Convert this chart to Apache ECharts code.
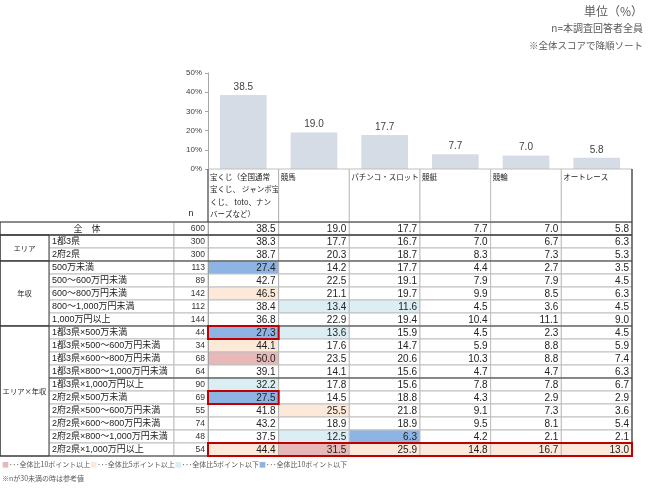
<!DOCTYPE html>
<html>
<head>
<meta charset="utf-8">
<script src="https://cdn.jsdelivr.net/npm/echarts@6/dist/echarts.min.js"></script>
<style>
html, body { margin: 0; padding: 0; background: #fff; }
#chart { width: 650px; height: 491px; }
</style>
</head>
<body>
<div id="chart"></div>
<script>
// 種目（全体スコアで降順）
const categories = ['宝くじ', '競馬', 'パチンコ・スロット', '競艇', '競輪', 'オートレース'];
const headerLabels = [
  '宝くじ（全国通常\n宝くじ、 ジャンボ宝\nくじ、 toto、ナン\nバーズなど）',
  '競馬', 'パチンコ・スロット', '競艇', '競輪', 'オートレース'
];
const yTicks = [0, 10, 20, 30, 40, 50];

const rowLabels = [
  '全　体', '1都3県', '2府2県',
  '500万未満', '500～600万円未満', '600～800万円未満', '800～1,000万円未満', '1,000万円以上',
  '1都3県×500万未満', '1都3県×500～600万円未満', '1都3県×600～800万円未満', '1都3県×800～1,000万円未満',
  '1都3県×1,000万円以上', '2府2県×500万未満', '2府2県×500～600万円未満', '2府2県×600～800万円未満',
  '2府2県×800～1,000万円未満', '2府2県×1,000万円以上'
];
const nValues = [600, 300, 300, 113, 89, 142, 112, 144, 44, 34, 68, 64, 90, 69, 55, 74, 48, 54];
const groups = [
  { name: 'エリア', from: 1, to: 2 },
  { name: '年収', from: 3, to: 7 },
  { name: 'エリア×年収', from: 8, to: 17 }
];

const lottery  = [38.5, 38.3, 38.7, 27.4, 42.7, 46.5, 38.4, 36.8, 27.3, 44.1, 50.0, 39.1, 32.2, 27.5, 41.8, 43.2, 37.5, 44.4];
const horse    = [19.0, 17.7, 20.3, 14.2, 22.5, 21.1, 13.4, 22.9, 13.6, 17.6, 23.5, 14.1, 17.8, 14.5, 25.5, 18.9, 12.5, 31.5];
const pachinko = [17.7, 16.7, 18.7, 17.7, 19.1, 19.7, 11.6, 19.4, 15.9, 14.7, 20.6, 15.6, 15.6, 18.8, 21.8, 18.9, 6.3, 25.9];
const boat     = [7.7, 7.0, 8.3, 4.4, 7.9, 9.9, 4.5, 10.4, 4.5, 5.9, 10.3, 4.7, 7.8, 4.3, 9.1, 9.5, 4.2, 14.8];
const keirin   = [7.0, 6.7, 7.3, 2.7, 7.9, 8.5, 3.6, 11.1, 2.3, 8.8, 8.8, 4.7, 7.8, 2.9, 7.3, 8.1, 2.1, 16.7];
const autorace = [5.8, 6.3, 5.3, 3.5, 4.5, 6.3, 4.5, 9.0, 4.5, 5.9, 7.4, 6.3, 6.7, 2.9, 3.6, 5.4, 2.1, 13.0];
const columns = [lottery, horse, pachinko, boat, keirin, autorace];
const totals = columns.map((c) => c[0]);

// 赤枠で強調するセル: [行, 開始列, 終了列]
const highlights = [[8, 0, 0], [13, 0, 0], [17, 0, 5]];

const JP = '"Noto Sans CJK JP", sans-serif';
const NUM = '"Liberation Sans", "Noto Sans CJK JP", sans-serif';
const LIGHT = '#bfbfbf';
const DARK = '#3a3a3a';
const C_PLUS10 = '#e6b8b7';
const C_PLUS5 = '#fde9d9';
const C_MINUS5 = '#daeef3';
const C_MINUS10 = '#8db4e2';
const HEADER_H = 53;
const COL_GROUP = 49, COL_LABEL = 125, COL_N = 34;

function cellColor(v, base) {
  const d = Math.round((v - base) * 10) / 10;
  if (d >= 10) return C_PLUS10;
  if (d >= 5) return C_PLUS5;
  if (d <= -10) return C_MINUS10;
  if (d <= -5) return C_MINUS5;
  return '#fff';
}

function line(x1, y1, x2, y2, color, w) {
  return { type: 'line', shape: { x1, y1, x2, y2 }, style: { stroke: color, lineWidth: w || 1 } };
}

const cellData = [];
columns.forEach((col, c) => col.forEach((v, r) => cellData.push([c, r, v])));

const chart = echarts.init(document.getElementById('chart'));
chart.setOption({
  animation: false,
  textStyle: { fontFamily: JP },
  grid: [
    { left: 208, right: 18, top: 73, height: 96 },
    { left: 208, right: 18, top: 222, height: 234 }
  ],
  xAxis: [
    { type: 'category', gridIndex: 0, data: categories, axisTick: { show: false }, axisLabel: { show: false },
      axisLine: { lineStyle: { color: '#a6a6a6' } } },
    { type: 'category', gridIndex: 1, data: categories, show: false }
  ],
  yAxis: [
    { type: 'value', gridIndex: 0, min: yTicks[0], max: yTicks[yTicks.length - 1], interval: yTicks[1] - yTicks[0],
      splitLine: { show: false },
      axisLine: { show: true, lineStyle: { color: '#a6a6a6' } },
      axisTick: { show: true, length: 3, lineStyle: { color: '#a6a6a6' } },
      axisLabel: { formatter: '{value}%', fontSize: 8, color: '#404040', fontFamily: NUM, margin: 6 } },
    { type: 'category', gridIndex: 1, data: rowLabels, inverse: true, show: false }
  ],
  graphic: [
    { type: 'text', right: 7, top: 5, style: { text: '単位（%）', font: '12px ' + JP, fill: '#595959' } },
    { type: 'text', right: 7, top: 23, style: { text: 'n=本調査回答者全員', font: '10px ' + JP, fill: '#595959' } },
    { type: 'text', right: 7, top: 41, style: { text: '※全体スコアで降順ソート', font: '9.5px ' + JP, fill: '#595959' } },
    { type: 'text', left: 2, top: 461, style: {
      text: '{p|■}{t|･･･全体比10ポイント以上}{o|■}{t|･･･全体比5ポイント以上}{l|■}{t|･･･全体比5ポイント以下}{b|■}{t|･･･全体比10ポイント以下}',
      font: '7px ' + JP, fill: '#595959',
      rich: {
        p: { fill: C_PLUS10, font: '7px ' + JP },
        o: { fill: C_PLUS5, font: '7px ' + JP },
        l: { fill: C_MINUS5, font: '7px ' + JP },
        b: { fill: C_MINUS10, font: '7px ' + JP },
        t: { fill: '#595959', font: '7px ' + JP }
      } } },
    { type: 'text', left: 2, top: 475, style: { text: '※nが30未満の時は参考値', font: '7px ' + JP, fill: '#595959' } }
  ],
  series: [
    {
      type: 'bar', xAxisIndex: 0, yAxisIndex: 0, data: totals, barCategoryGap: '34%',
      itemStyle: { color: '#d6dce5' },
      label: { show: true, position: 'top', fontSize: 10, color: '#404040', fontFamily: NUM, distance: 3,
        formatter: (p) => p.value.toFixed(1) }
    },
    {
      // 見出し行（種目名）
      type: 'custom', xAxisIndex: 0, yAxisIndex: 0, data: categories.map((_, i) => [i, 0]), z: 3,
      renderItem: (params, api) => {
        const i = api.value(0);
        const p = api.coord([i, 0]);
        const w = api.size([1, 0])[0];
        const x = p[0] - w / 2, y = p[1];
        const ch = [
          { type: 'rect', shape: { x, y, width: w, height: HEADER_H }, style: { fill: '#fff', stroke: LIGHT } },
          { type: 'text', x: x + 2, y: y + 2, style: { text: headerLabels[i], font: '7.5px ' + JP, lineHeight: 12.3,
            fill: '#222', verticalAlign: 'top' } }
        ];
        if (i === 0) {
          ch.push(line(x, y, x, y + HEADER_H, DARK), line(x + w, y, x + w, y + HEADER_H, DARK));
          ch.push({ type: 'text', x: x - COL_N / 2, y: y + HEADER_H - 4, style: { text: 'n', font: '9px ' + NUM,
            fill: '#222', align: 'center', verticalAlign: 'bottom' } });
        }
        return { type: 'group', children: ch };
      }
    },
    {
      // データセル
      type: 'custom', xAxisIndex: 1, yAxisIndex: 1, data: cellData, z: 2,
      renderItem: (params, api) => {
        const c = api.value(0), r = api.value(1), v = api.value(2);
        const p = api.coord([c, r]);
        const s = api.size([1, 1]);
        const x = p[0] - s[0] / 2, y = p[1] - s[1] / 2;
        const ch = [
          { type: 'rect', shape: { x, y, width: s[0], height: s[1] }, style: { fill: cellColor(v, totals[c]), stroke: LIGHT } },
          { type: 'text', x: x + s[0] - 3, y: p[1] + 0.5, style: { text: v.toFixed(1), font: '10px ' + NUM, fill: '#222',
            align: 'right', verticalAlign: 'middle' } }
        ];
        if (c === 0) ch.push(line(x, y, x, y + s[1], DARK), line(x + s[0], y, x + s[0], y + s[1], DARK));
        return { type: 'group', children: ch };
      }
    },
    {
      // 行ラベルとn
      type: 'custom', xAxisIndex: 1, yAxisIndex: 1, data: rowLabels.map((_, r) => [0, r]), z: 2,
      renderItem: (params, api) => {
        const r = api.value(1);
        const p = api.coord([0, r]);
        const s = api.size([1, 1]);
        const left = p[0] - s[0] / 2, y = p[1] - s[1] / 2;
        const ch = [];
        if (r === 0) {
          const lx = left - COL_N - COL_LABEL - COL_GROUP;
          ch.push({ type: 'rect', shape: { x: lx, y, width: COL_GROUP + COL_LABEL, height: s[1] }, style: { fill: '#fff', stroke: LIGHT } });
          ch.push({ type: 'text', x: lx + (COL_GROUP + COL_LABEL) / 2, y: p[1], style: { text: rowLabels[r], font: '9px ' + JP,
            fill: '#222', align: 'center', verticalAlign: 'middle' } });
        } else {
          const lx = left - COL_N - COL_LABEL;
          ch.push({ type: 'rect', shape: { x: lx, y, width: COL_LABEL, height: s[1] }, style: { fill: '#fff', stroke: LIGHT } });
          ch.push({ type: 'text', x: lx + 3, y: p[1] + 0.5, style: { text: rowLabels[r], font: '9px ' + NUM,
            fill: '#222', align: 'left', verticalAlign: 'middle' } });
        }
        ch.push({ type: 'rect', shape: { x: left - COL_N, y, width: COL_N, height: s[1] }, style: { fill: '#fff', stroke: LIGHT } });
        ch.push({ type: 'text', x: left - 3, y: p[1] + 0.5, style: { text: String(nValues[r]), font: '8.5px ' + NUM,
          fill: '#333', align: 'right', verticalAlign: 'middle' } });
        return { type: 'group', children: ch };
      }
    },
    {
      // 分類ラベル
      type: 'custom', xAxisIndex: 1, yAxisIndex: 1, data: groups.map((g) => [0, g.from, g.to]), z: 2,
      renderItem: (params, api) => {
        const g = groups[params.dataIndex];
        const p0 = api.coord([0, g.from]);
        const p1 = api.coord([0, g.to]);
        const s = api.size([1, 1]);
        const x = p0[0] - s[0] / 2 - COL_N - COL_LABEL - COL_GROUP;
        const y = p0[1] - s[1] / 2, h = p1[1] - p0[1] + s[1];
        return { type: 'group', children: [
          { type: 'rect', shape: { x, y, width: COL_GROUP, height: h }, style: { fill: '#fff', stroke: DARK } },
          { type: 'text', x: x + COL_GROUP / 2, y: y + h / 2, style: { text: g.name, font: '7.3px ' + JP, fill: '#222',
            align: 'center', verticalAlign: 'middle' } }
        ] };
      }
    },
    {
      // 罫線（太線）
      type: 'custom', xAxisIndex: 1, yAxisIndex: 1, data: [[0, 0]], z: 4,
      renderItem: (params, api) => {
        const s = api.size([1, 1]);
        const p = api.coord([0, 0]);
        const gl = p[0] - s[0] / 2;
        const gr = gl + s[0] * categories.length;
        const top = p[1] - s[1] / 2;
        const bottom = top + s[1] * rowLabels.length;
        const x0 = gl - COL_N - COL_LABEL - COL_GROUP;
        const ch = [];
        [0, 1, 3, 8, rowLabels.length].forEach((r) => {
          const yy = top + r * s[1];
          ch.push(line(x0, yy, gr, yy, DARK, r === 1 ? 1.6 : 1.2));
        });
        const y12 = top + 12 * s[1];
        ch.push(line(x0 + COL_GROUP, y12, gr, y12, DARK, 1.2));
        ch.push(line(x0, top, x0, bottom, DARK, 1.2));
        ch.push(line(gr, top - HEADER_H, gr, bottom, DARK, 1.2));
        return { type: 'group', children: ch };
      }
    },
    {
      // 赤枠
      type: 'custom', xAxisIndex: 1, yAxisIndex: 1, data: highlights.map((h) => [h[1], h[0], h[2]]), z: 5,
      renderItem: (params, api) => {
        const h = highlights[params.dataIndex];
        const s = api.size([1, 1]);
        const p0 = api.coord([h[1], h[0]]);
        const x = p0[0] - s[0] / 2, y = p0[1] - s[1] / 2;
        return { type: 'rect', shape: { x, y, width: s[0] * (h[2] - h[1] + 1), height: s[1] },
          style: { fill: 'none', stroke: '#c00000', lineWidth: 2 } };
      }
    }
  ]
});
</script>
</body>
</html>
